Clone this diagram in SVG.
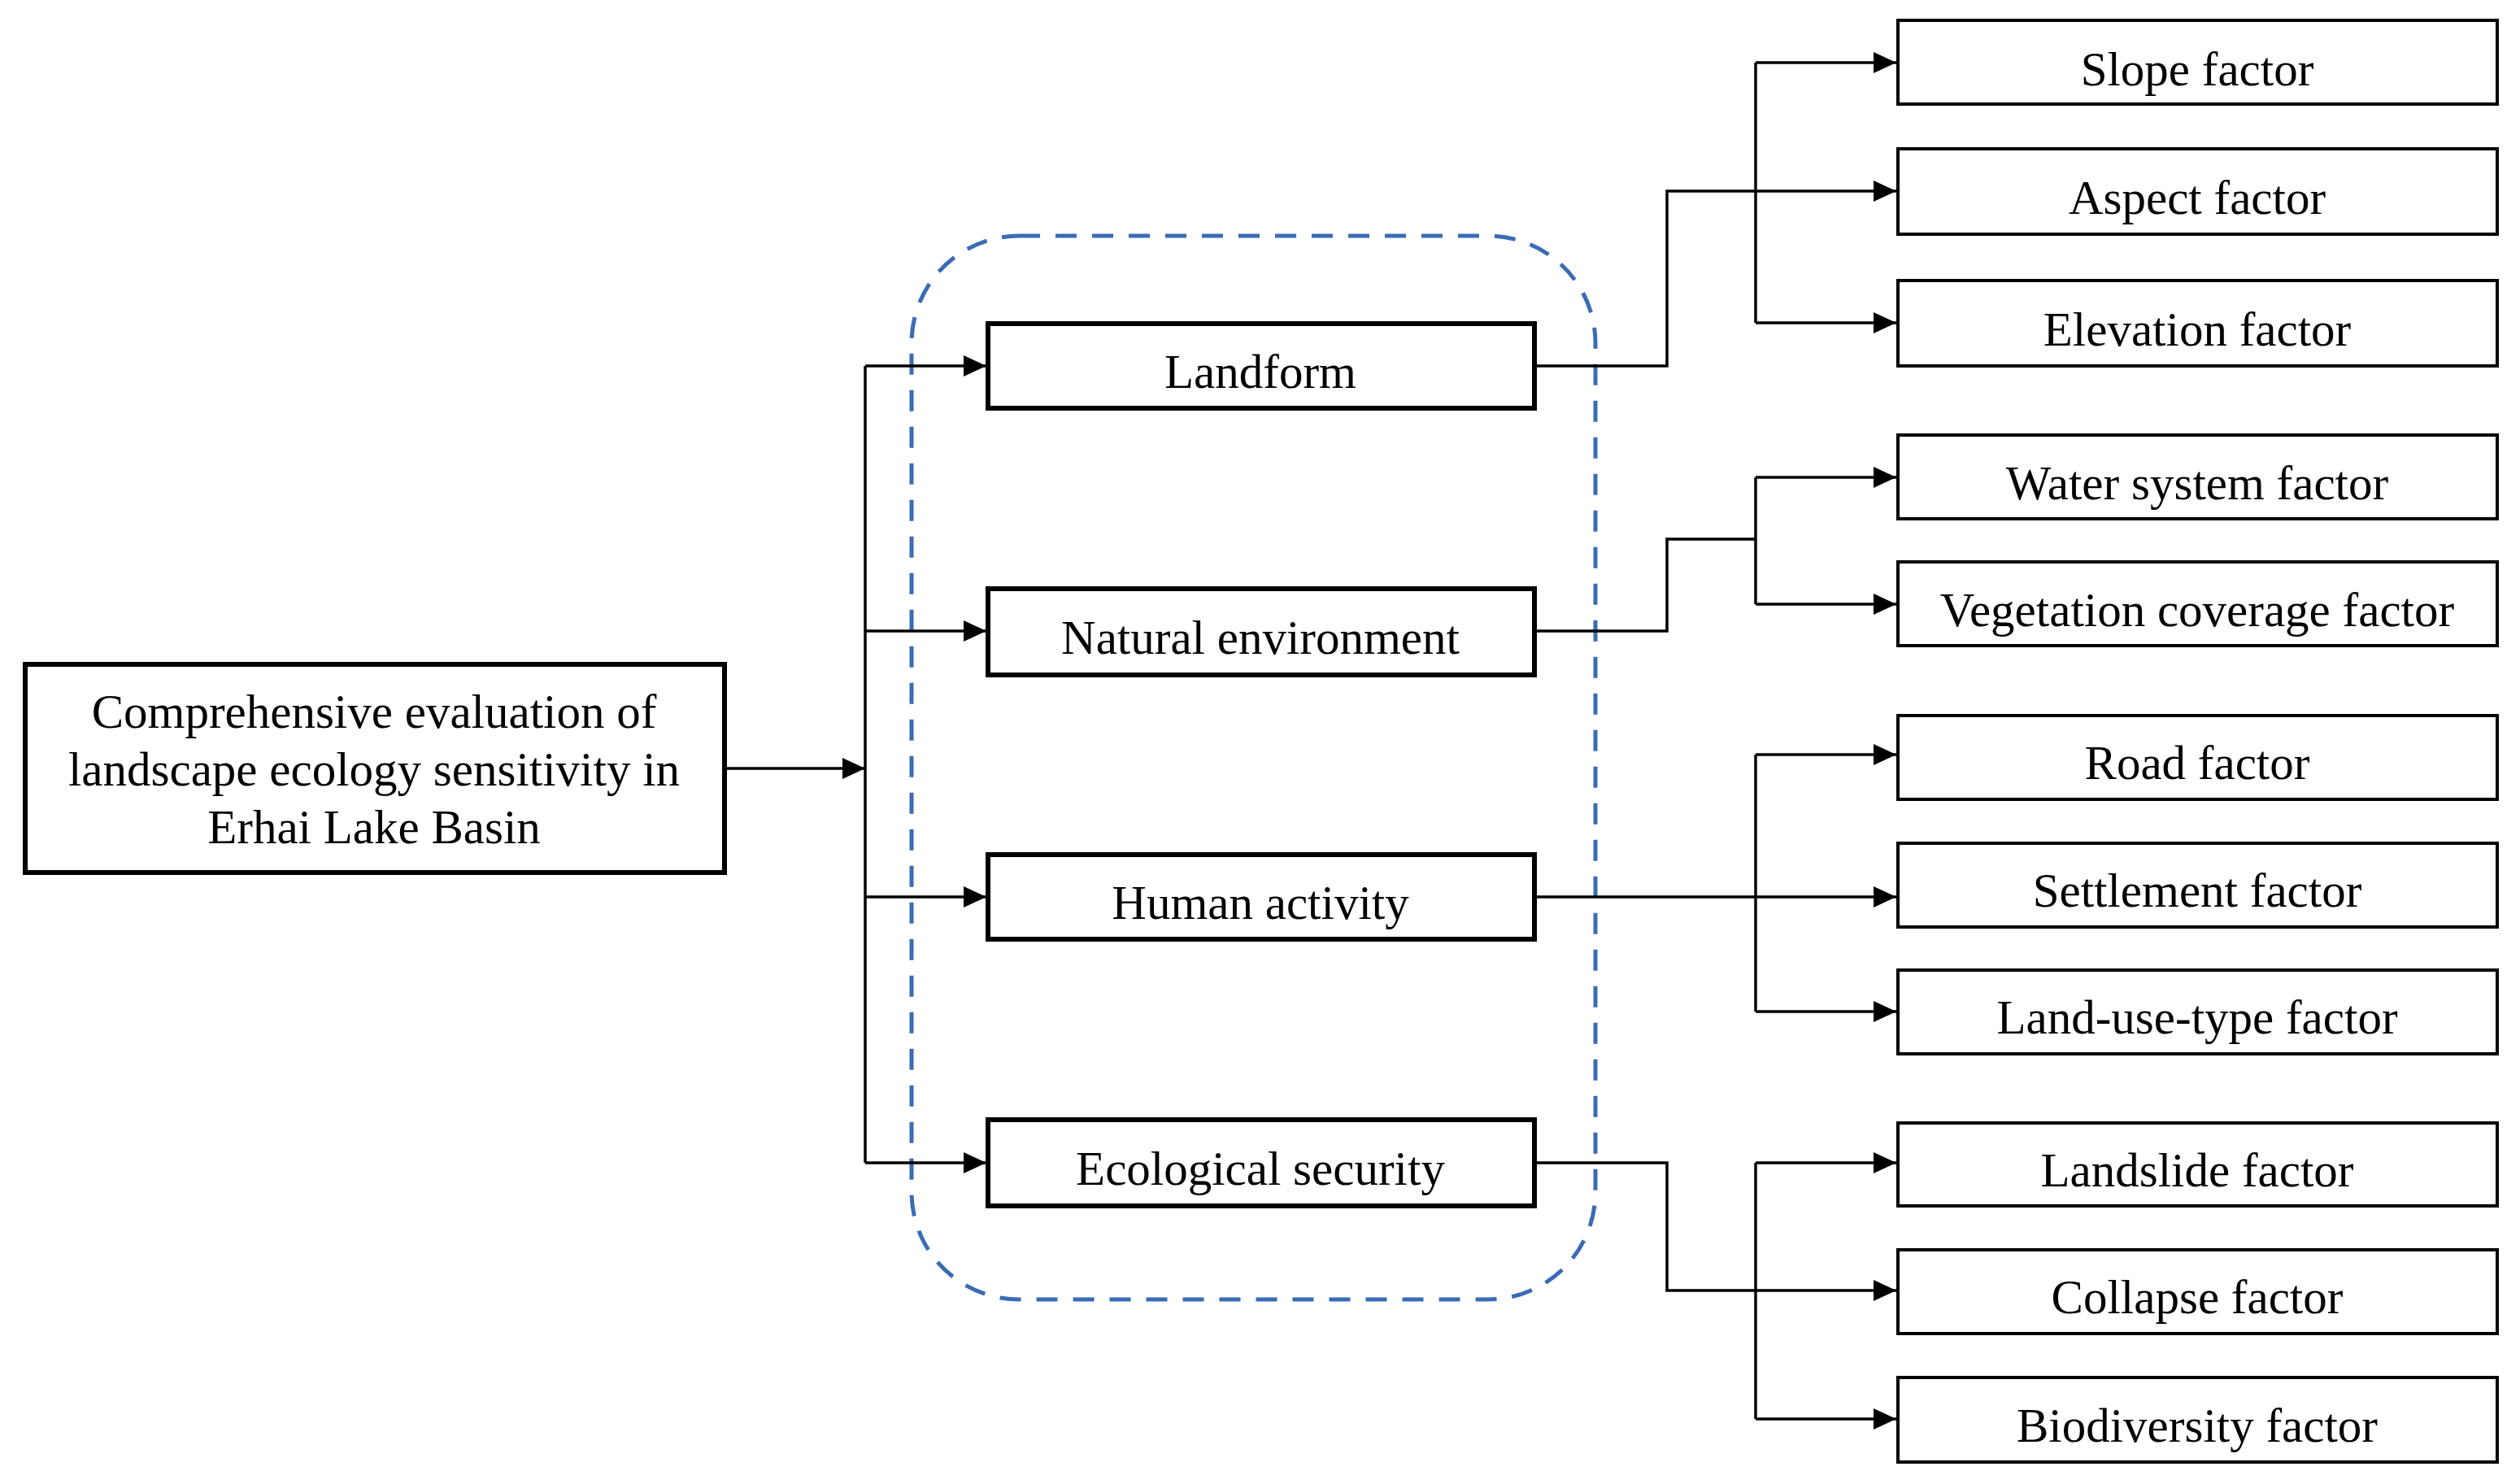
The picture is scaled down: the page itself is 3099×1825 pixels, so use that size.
<svg xmlns="http://www.w3.org/2000/svg" width="3099" height="1825" viewBox="0 0 3099 1825">
<style>
text{font-family:"Liberation Serif","Times New Roman",serif;font-size:59px;fill:#000;text-anchor:middle}
.main rect{fill:#fff;stroke:#000;stroke-width:6}
.mid rect{fill:#fff;stroke:#000;stroke-width:6}
.leaf rect{fill:#fff;stroke:#000;stroke-width:4}
.conn path{fill:none;stroke:#000;stroke-width:3.5}
.arr{marker-end:url(#ah)}
</style>
<defs>
<marker id="ah" markerUnits="userSpaceOnUse" markerWidth="28" markerHeight="26" refX="28" refY="13" orient="auto">
<path d="M0,0 L28,13 L0,26 Z" fill="#000"/>
</marker>
</defs>
<rect width="3099" height="1825" fill="#fff"/>
<rect id="group-frame" x="1121" y="290" width="841" height="1308" rx="132" ry="132" fill="none" stroke="#3A6BB5" stroke-width="5" stroke-dasharray="26 19"/>
<g class="conn" id="connectors">
<path class="arr" d="M893,945 H1064"/>
<path d="M1064,450 V1430"/>
<path class="arr" d="M1064,450 H1213"/>
<path class="arr" d="M1064,776 H1213"/>
<path class="arr" d="M1064,1103 H1213"/>
<path class="arr" d="M1064,1430 H1213"/>
<path class="arr" d="M1887,450 H2050 V235 H2332"/>
<path d="M2159,77 V397"/>
<path class="arr" d="M2159,77 H2332"/>
<path class="arr" d="M2159,397 H2332"/>
<path d="M1887,776 H2050 V663 H2159"/>
<path d="M2159,587 V743"/>
<path class="arr" d="M2159,587 H2332"/>
<path class="arr" d="M2159,743 H2332"/>
<path class="arr" d="M1887,1103 H2332"/>
<path d="M2159,928 V1244"/>
<path class="arr" d="M2159,928 H2332"/>
<path class="arr" d="M2159,1244 H2332"/>
<path class="arr" d="M1887,1430 H2050 V1587 H2332"/>
<path d="M2159,1430 V1745"/>
<path class="arr" d="M2159,1430 H2332"/>
<path class="arr" d="M2159,1745 H2332"/>
</g>
<g id="root" class="main">
<rect x="31" y="817" width="860" height="256"/>
<text x="460" y="895">Comprehensive evaluation of</text>
<text x="460" y="966">landscape ecology sensitivity in</text>
<text x="460" y="1037">Erhai Lake Basin</text>
</g>
<g id="landform" class="mid"><rect x="1215" y="398" width="672" height="104"/><text x="1550" y="477">Landform</text></g>
<g id="natural-environment" class="mid"><rect x="1215" y="724" width="672" height="106"/><text x="1550" y="804">Natural environment</text></g>
<g id="human-activity" class="mid"><rect x="1215" y="1051" width="672" height="104"/><text x="1550" y="1130">Human activity</text></g>
<g id="ecological-security" class="mid"><rect x="1215" y="1377" width="672" height="106"/><text x="1550" y="1457">Ecological security</text></g>
<g id="slope" class="leaf"><rect x="2334" y="25" width="737" height="103"/><text x="2702" y="105">Slope factor</text></g>
<g id="aspect" class="leaf"><rect x="2334" y="183" width="737" height="105"/><text x="2702" y="263">Aspect factor</text></g>
<g id="elevation" class="leaf"><rect x="2334" y="345" width="737" height="105"/><text x="2702" y="425">Elevation factor</text></g>
<g id="water" class="leaf"><rect x="2334" y="535" width="737" height="103"/><text x="2702" y="614">Water system factor</text></g>
<g id="vegetation" class="leaf"><rect x="2334" y="691" width="737" height="103"/><text x="2702" y="770">Vegetation coverage factor</text></g>
<g id="road" class="leaf"><rect x="2334" y="880" width="737" height="103"/><text x="2702" y="958">Road factor</text></g>
<g id="settlement" class="leaf"><rect x="2334" y="1037" width="737" height="103"/><text x="2702" y="1115">Settlement factor</text></g>
<g id="land-use" class="leaf"><rect x="2334" y="1193" width="737" height="103"/><text x="2702" y="1271">Land-use-type factor</text></g>
<g id="landslide" class="leaf"><rect x="2334" y="1381" width="737" height="102"/><text x="2702" y="1459">Landslide factor</text></g>
<g id="collapse" class="leaf"><rect x="2334" y="1537" width="737" height="103"/><text x="2702" y="1615">Collapse factor</text></g>
<g id="biodiversity" class="leaf"><rect x="2334" y="1694" width="737" height="104"/><text x="2702" y="1773">Biodiversity factor</text></g>
</svg>
